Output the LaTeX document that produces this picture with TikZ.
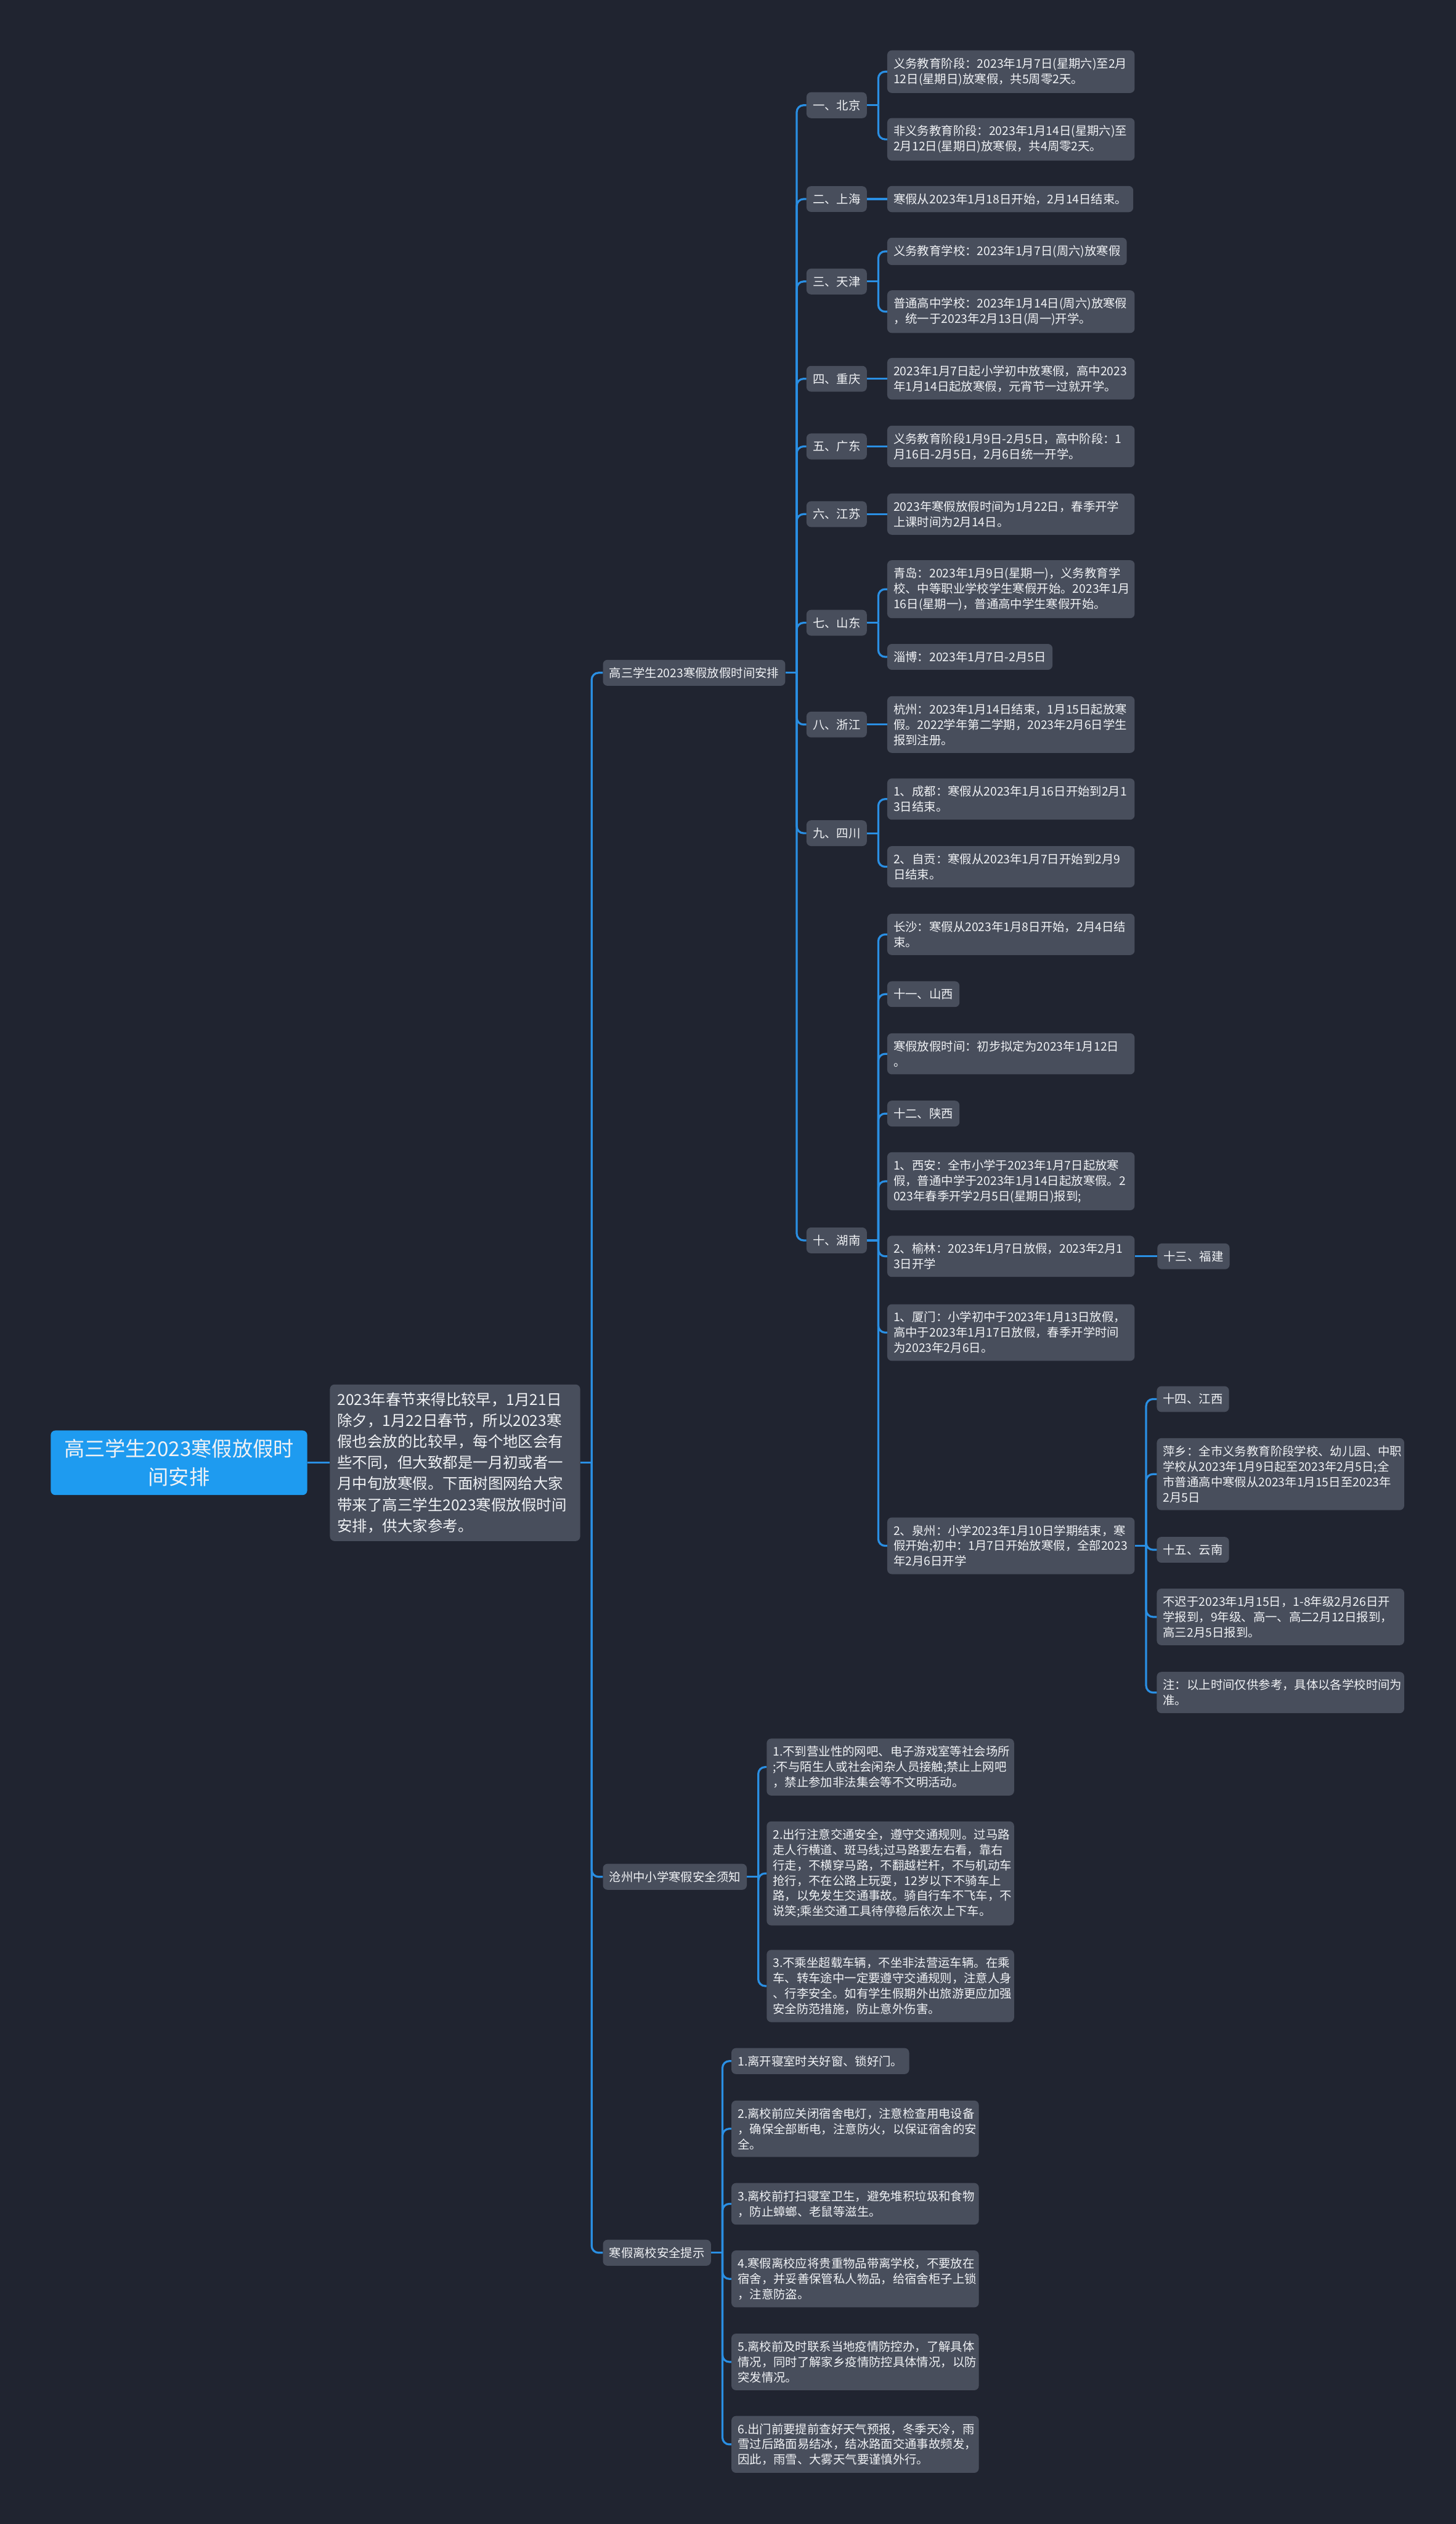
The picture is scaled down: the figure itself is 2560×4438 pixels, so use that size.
\documentclass[tikz,border=0pt]{standalone}
\usepackage{fontspec}
\setmainfont{Noto Sans CJK SC}
\usetikzlibrary{calc}
\definecolor{bg}{HTML}{202430}
\definecolor{nodefill}{HTML}{484E5C}
\definecolor{txt}{HTML}{F0F2F5}
\definecolor{linecol}{HTML}{2A8FE3}
\definecolor{rootfill}{HTML}{1E9BF0}
\tikzset{
  box/.style={fill=nodefill, rounded corners=8pt, text=txt, inner xsep=11pt, inner ysep=13pt,
    anchor=west, font=\fontsize{21}{27}\selectfont, align=left},
  wbox/.style={box, text width=413pt},
  conn/.style={draw=linecol, line width=3.5pt, rounded corners=12pt},
}
\newcommand{\kids}[2]{%
  \draw[conn] (#1.east) -- ++(20,0);
  \foreach \c in {#2} {\draw[conn] ($(#1.east)+(20,0)$) |- (\c.west);}}
\newcommand{\straight}[2]{\draw[conn] (#1.east) -- (#2.west);}
\begin{document}
\begin{tikzpicture}[x=1pt,y=-1pt]
\fill[bg] (0,0) rectangle (2560,4438);
\useasboundingbox (0,0) rectangle (2560,4438);

% root and intro
\node[box, fill=rootfill, align=center, text width=421pt, inner xsep=15pt, inner ysep=15pt,
  font=\fontsize{36}{50}\selectfont] (root) at (89,2572) {高三学生2023寒假放假时\\间安排};
\node[box, text width=414pt, inner xsep=13pt, inner ysep=14pt, font=\fontsize{26.5}{37}\selectfont]
  (intro) at (580,2572) {2023年春节来得比较早，1月21日\\除夕，1月22日春节，所以2023寒\\假也会放的比较早，每个地区会有\\些不同，但大致都是一月初或者一\\月中旬放寒假。下面树图网给大家\\带来了高三学生2023寒假放假时间\\安排，供大家参考。};

% level 1
\node[box] (L1a) at (1060,1183) {高三学生2023寒假放假时间安排};
\node[box] (L1b) at (1060,3300) {沧州中小学寒假安全须知};
\node[box] (L1c) at (1060,3961) {寒假离校安全提示};

% level 2
\node[box] (bj) at (1418,185) {一、北京};
\node[box] (sh) at (1418,350) {二、上海};
\node[box] (tj) at (1418,495) {三、天津};
\node[box] (cq) at (1418,666) {四、重庆};
\node[box] (gd) at (1418,785) {五、广东};
\node[box] (js) at (1418,904) {六、江苏};
\node[box] (sd) at (1418,1095) {七、山东};
\node[box] (zj) at (1418,1274) {八、浙江};
\node[box] (sc) at (1418,1465) {九、四川};
\node[box] (hn) at (1418,2181) {十、湖南};

% level 3
\node[wbox] (bj1) at (1560,126) {义务教育阶段：2023年1月7日(星期六)至2月\\12日(星期日)放寒假，共5周零2天。};
\node[wbox] (bj2) at (1560,245) {非义务教育阶段：2023年1月14日(星期六)至\\2月12日(星期日)放寒假，共4周零2天。};
\node[box] (sh1) at (1560,350) {寒假从2023年1月18日开始，2月14日结束。};
\node[box] (tj1) at (1560,442) {义务教育学校：2023年1月7日(周六)放寒假};
\node[wbox] (tj2) at (1560,548) {普通高中学校：2023年1月14日(周六)放寒假\\，统一于2023年2月13日(周一)开学。};
\node[wbox] (cq1) at (1560,666) {2023年1月7日起小学初中放寒假，高中2023\\年1月14日起放寒假，元宵节一过就开学。};
\node[wbox] (gd1) at (1560,785) {义务教育阶段1月9日-2月5日，高中阶段：1\\月16日-2月5日，2月6日统一开学。};
\node[wbox] (js1) at (1560,904) {2023年寒假放假时间为1月22日，春季开学\\上课时间为2月14日。};
\node[wbox] (sd1) at (1560,1036) {青岛：2023年1月9日(星期一)，义务教育学\\校、中等职业学校学生寒假开始。2023年1月\\16日(星期一)，普通高中学生寒假开始。};
\node[box] (sd2) at (1560,1155) {淄博：2023年1月7日-2月5日};
\node[wbox] (zj1) at (1560,1274) {杭州：2023年1月14日结束，1月15日起放寒\\假。2022学年第二学期，2023年2月6日学生\\报到注册。};
\node[wbox] (sc1) at (1560,1405) {1、成都：寒假从2023年1月16日开始到2月1\\3日结束。};
\node[wbox] (sc2) at (1560,1524) {2、自贡：寒假从2023年1月7日开始到2月9\\日结束。};

\node[wbox] (hn1) at (1560,1643) {长沙：寒假从2023年1月8日开始，2月4日结\\束。};
\node[box] (hn2) at (1560,1748) {十一、山西};
\node[wbox] (hn3) at (1560,1853) {寒假放假时间：初步拟定为2023年1月12日\\。};
\node[box] (hn4) at (1560,1958) {十二、陕西};
\node[wbox] (hn5) at (1560,2077) {1、西安：全市小学于2023年1月7日起放寒\\假，普通中学于2023年1月14日起放寒假。2\\023年春季开学2月5日(星期日)报到;};
\node[wbox] (hn6) at (1560,2209) {2、榆林：2023年1月7日放假，2023年2月1\\3日开学};
\node[wbox] (hn7) at (1560,2343) {1、厦门：小学初中于2023年1月13日放假，\\高中于2023年1月17日放假，春季开学时间\\为2023年2月6日。};
\node[wbox] (hn8) at (1560,2718) {2、泉州：小学2023年1月10日学期结束，寒\\假开始;初中：1月7日开始放寒假，全部2023\\年2月6日开学};

\node[box] (fj) at (2035,2209) {十三、福建};
\node[box] (jx) at (2034,2460) {十四、江西};
\node[wbox] (px) at (2034,2592) {萍乡：全市义务教育阶段学校、幼儿园、中职\\学校从2023年1月9日起至2023年2月5日;全\\市普通高中寒假从2023年1月15日至2023年\\2月5日};
\node[box] (yn) at (2034,2725) {十五、云南};
\node[wbox] (bc) at (2034,2843) {不迟于2023年1月15日，1-8年级2月26日开\\学报到，9年级、高一、高二2月12日报到，\\高三2月5日报到。};
\node[wbox] (zhu) at (2034,2976) {注：以上时间仅供参考，具体以各学校时间为\\准。};

% 沧州
\node[wbox] (cz1) at (1348,3107) {1.不到营业性的网吧、电子游戏室等社会场所\\;不与陌生人或社会闲杂人员接触;禁止上网吧\\，禁止参加非法集会等不文明活动。};
\node[wbox] (cz2) at (1348,3294) {2.出行注意交通安全，遵守交通规则。过马路\\走人行横道、斑马线;过马路要左右看，靠右\\行走，不横穿马路，不翻越栏杆，不与机动车\\抢行，不在公路上玩耍，12岁以下不骑车上\\路，以免发生交通事故。骑自行车不飞车，不\\说笑;乘坐交通工具待停稳后依次上下车。};
\node[wbox] (cz3) at (1348,3492) {3.不乘坐超载车辆，不坐非法营运车辆。在乘\\车、转车途中一定要遵守交通规则，注意人身\\、行李安全。如有学生假期外出旅游更应加强\\安全防范措施，防止意外伤害。};

% 离校
\node[box] (lx1) at (1286,3624) {1.离开寝室时关好窗、锁好门。};
\node[wbox] (lx2) at (1286,3743) {2.离校前应关闭宿舍电灯，注意检查用电设备\\，确保全部断电，注意防火，以保证宿舍的安\\全。};
\node[wbox] (lx3) at (1286,3875) {3.离校前打扫寝室卫生，避免堆积垃圾和食物\\，防止蟑螂、老鼠等滋生。};
\node[wbox] (lx4) at (1286,4007) {4.寒假离校应将贵重物品带离学校，不要放在\\宿舍，并妥善保管私人物品，给宿舍柜子上锁\\，注意防盗。};
\node[wbox] (lx5) at (1286,4153) {5.离校前及时联系当地疫情防控办，了解具体\\情况，同时了解家乡疫情防控具体情况，以防\\突发情况。};
\node[wbox] (lx6) at (1286,4298) {6.出门前要提前查好天气预报，冬季天冷，雨\\雪过后路面易结冰，结冰路面交通事故频发，\\因此，雨雪、大雾天气要谨慎外行。};

% connectors
\straight{root}{intro}
\kids{intro}{L1a,L1b,L1c}
\kids{L1a}{bj,sh,tj,cq,gd,js,sd,zj,sc,hn}
\kids{bj}{bj1,bj2}
\straight{sh}{sh1}
\kids{tj}{tj1,tj2}
\straight{cq}{cq1}
\straight{gd}{gd1}
\straight{js}{js1}
\kids{sd}{sd1,sd2}
\straight{zj}{zj1}
\kids{sc}{sc1,sc2}
\kids{hn}{hn1,hn2,hn3,hn4,hn5,hn6,hn7,hn8}
\straight{hn6}{fj}
\kids{hn8}{jx,px,yn,bc,zhu}
\kids{L1b}{cz1,cz2,cz3}
\kids{L1c}{lx1,lx2,lx3,lx4,lx5,lx6}
\end{tikzpicture}
\end{document}
